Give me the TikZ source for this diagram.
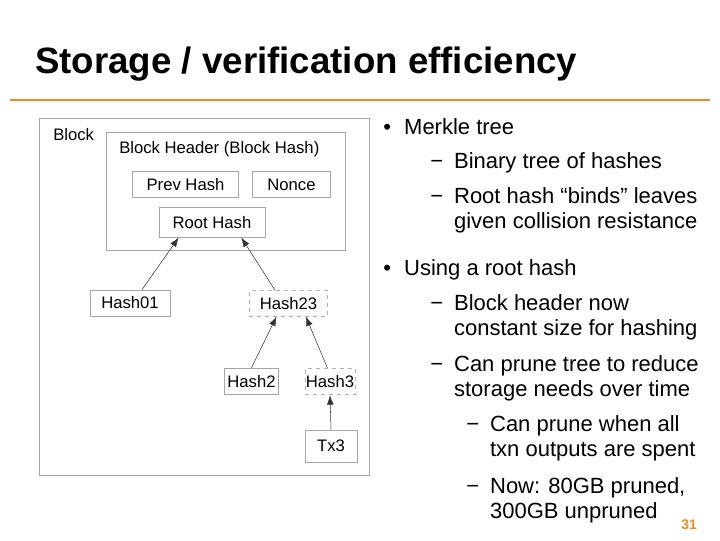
\documentclass[tikz,border=0pt]{standalone}
\usepackage{fontspec}
\setmainfont{Liberation Sans}
\usetikzlibrary{calc}
\definecolor{accent}{RGB}{232,140,40}
\tikzset{
  box/.style={draw=gray!70, line width=0.6pt, inner sep=0pt, font=\fontsize{12.5}{14}\selectfont},
  dbox/.style={box, dashed, draw=gray!60},
  link/.style={-{Latex[length=7pt,width=5pt]}, gray!40!black, line width=0.4pt},
  bul/.style={anchor=base west, inner sep=0pt, font=\fontsize{16.5}{19.5}\selectfont, align=left},
}
\usetikzlibrary{arrows.meta}
\begin{document}
\begin{tikzpicture}[x=0.75pt, y=-0.75pt]
        \useasboundingbox (0,0) rectangle (720,540);
        % title
        \node[anchor=base west, inner sep=0pt, font=\bfseries\fontsize{27.5}{30}\selectfont] (title) at (35,73) {Storage / verification efficiency};
        \draw[accent, line width=1.5pt] (10,100) -- (710,100);
        % block diagram
        \node[box, minimum width=247.5pt, minimum height=267.75pt, anchor=north west] (block) at (39,118) {};
        \node[anchor=north west, inner sep=0pt, font=\fontsize{12.5}{14}\selectfont] (blocklbl) at (53,128) {Block};
        \node[box, minimum width=179.25pt, minimum height=88.5pt, anchor=north west] (header) at (106,132) {};
        \node[anchor=north west, inner sep=0pt, font=\fontsize{12.5}{14}\selectfont] (headerlbl) at (119,141) {Block Header (Block Hash)};
        \node[box, minimum width=80pt, minimum height=19pt] (prev) at (185.5,184.5) {Prev Hash};
        \node[box, minimum width=59pt, minimum height=19pt] (nonce) at (291.5,184.5) {Nonce};
        \node[box, minimum width=79.5pt, minimum height=22pt] (root) at (212,222.5) {Root Hash};
        \node[box, minimum width=60pt, minimum height=19.5pt] (h01) at (130,303) {Hash01};
        \node[dbox, minimum width=59pt, minimum height=19pt] (h23) at (288.5,303.5) {Hash23};
        \node[box, minimum width=40pt, minimum height=20pt] (h2) at (251.5,381.5) {Hash2};
        \node[dbox, minimum width=37.5pt, minimum height=20pt] (h3) at (330,381.5) {Hash3};
        \node[box, minimum width=39pt, minimum height=24pt] (tx3) at (331,446) {Tx3};
        \draw[link] ([xshift=9pt]h01.north) -- ([xshift=-25pt]root.south);
        \draw[link] ([xshift=-10pt]h23.north) -- ([xshift=22pt]root.south);
        \draw[link] (h2.north) -- ([xshift=-9pt]h23.south);
        \draw[link] ([xshift=-2pt]h3.north) -- ([xshift=13pt]h23.south);
        \draw[link] (tx3.north) -- (h3.south);
        % bullets
        \node[bul] (b1) at (383,134) {•\hspace{0.6em}Merkle tree};
        \node[bul] (b1a) at (430,168) {−\hspace{0.5em}Binary tree of hashes};
        \node[bul] (b1b) at (430,203) {−\hspace{0.5em}\begin{tabular}[t]{@{}l@{}}Root hash “binds” leaves\\[-0.5pt] given collision resistance\end{tabular}};
        \node[bul] (b2) at (383,275) {•\hspace{0.6em}Using a root hash};
        \node[bul] (b2a) at (430,310) {−\hspace{0.5em}\begin{tabular}[t]{@{}l@{}}Block header now\\[-0.5pt] constant size for hashing\end{tabular}};
        \node[bul] (b2b) at (430,371) {−\hspace{0.5em}\begin{tabular}[t]{@{}l@{}}Can prune tree to reduce\\[-0.5pt] storage needs over time\end{tabular}};
        \node[bul] (b2c) at (466,431) {−\hspace{0.5em}\begin{tabular}[t]{@{}l@{}}Can prune when all\\[-0.5pt] txn outputs are spent\end{tabular}};
        \node[bul] (b2d) at (466,493) {−\hspace{0.5em}\begin{tabular}[t]{@{}l@{}}Now: 80GB pruned,\\[-0.5pt] 300GB unpruned\end{tabular}};
        \node[anchor=base west, inner sep=0pt, text=accent, font=\bfseries\fontsize{10.5}{12}\selectfont] (page) at (681,529) {31};
\end{tikzpicture}
\end{document}
